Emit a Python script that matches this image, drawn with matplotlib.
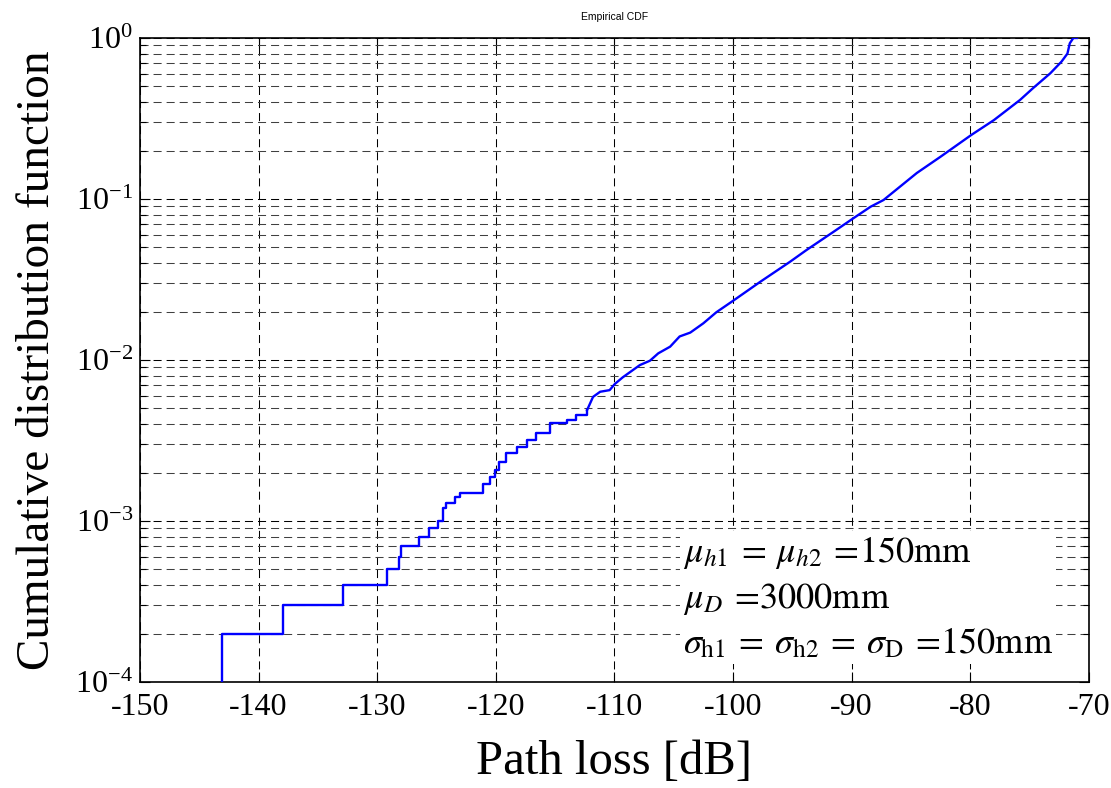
import numpy as np
import matplotlib
matplotlib.use("Agg")
import matplotlib.pyplot as plt
from matplotlib.ticker import FixedLocator, LogLocator, NullFormatter

# ---- data ----
# low-probability staircase part of the empirical CDF
step_x = [-143.1, -143.1, -137.9, -132.9, -129.2, -128.2, -127.95, -126.5, -125.6,
          -124.9, -124.45, -124.2, -123.4, -123.05, -121.1, -120.5, -120.1, -119.7,
          -119.1, -118.25, -117.4, -116.6, -115.4, -114.0, -113.2, -112.3]
step_y = [1.0e-4, 2.0e-4, 3.0e-4, 4.0e-4, 5.0e-4, 6.0e-4, 7.0e-4, 8.0e-4, 9.0e-4,
          1.0e-3, 1.2e-3, 1.3e-3, 1.4e-3, 1.5e-3, 1.7e-3, 1.88e-3, 2.07e-3, 2.33e-3,
          2.63e-3, 2.89e-3, 3.18e-3, 3.5e-3, 4.05e-3, 4.24e-3, 4.55e-3, 4.89e-3]
# dense (quasi-continuous) part
cont_x = [-112.3, -111.8, -111.2, -110.4, -109.96, -109.3, -108.4, -107.85, -107.0,
          -106.3, -105.3, -104.5, -103.6, -102.5, -101.4, -100.0, -97.7, -95.2,
          -93.8, -91.5, -89.85, -88.4, -87.3, -84.5, -82.5, -79.9, -78.0, -75.8,
          -74.7, -73.25, -72.3, -71.8, -71.6, -71.3, -71.0]
cont_y = [4.89e-3, 5.9e-3, 6.35e-3, 6.5e-3, 7.1e-3, 7.8e-3, 8.7e-3, 9.3e-3, 9.9e-3,
          1.1e-2, 1.21e-2, 1.40e-2, 1.48e-2, 1.69e-2, 1.98e-2, 2.33e-2, 3.06e-2, 4.07e-2,
          4.82e-2, 6.27e-2, 7.59e-2, 8.95e-2, 9.86e-2, 0.145, 0.183, 0.25, 0.309, 0.412,
          0.488, 0.603, 0.713, 0.80, 0.927, 1.0, 1.0]

x_ticks = [-150, -140, -130, -120, -110, -100, -90, -80, -70]
x_ticklabels = ["-150", "-140", "-130", "-120", "-110", "-100", "-90", "-80", "-70"]
y_ticks = [1e-4, 1e-3, 1e-2, 1e-1, 1e0]
y_ticklabels = [r"10$^{\mathregular{-4}}$", r"10$^{\mathregular{-3}}$",
                r"10$^{\mathregular{-2}}$", r"10$^{\mathregular{-1}}$",
                r"10$^{\mathregular{0}}$"]

annotation = (r"$\mu_{h1}\:=\:\mu_{h2}\:=\!150\mathrm{mm}$" "\n"
              r"$\mu_{D}\:=\!3000\mathrm{mm}$" "\n"
              r"$\sigma_{\mathrm{h1}}\:=\:\sigma_{\mathrm{h2}}\:=\:\sigma_{\mathrm{D}}\:=\!150\mathrm{mm}$")

# ---- style ----
plt.rcParams['font.family'] = ['Liberation Serif', 'DejaVu Serif']
plt.rcParams['mathtext.fontset'] = 'stix'
plt.rcParams['lines.scale_dashes'] = False

fig = plt.figure(figsize=(11.11, 7.88), dpi=100)
ax = fig.add_axes([0.126, 0.1345, 0.854, 0.8173])

ax.plot(step_x, step_y, color=(0, 0, 1), lw=1.7, drawstyle='steps-post', zorder=4)
ax.plot(cont_x, cont_y, color=(0, 0, 1), lw=1.7, zorder=4)

ax.set_yscale('log')
ax.set_xlim(-150, -70)
ax.set_ylim(1e-4, 1)

ax.xaxis.set_major_locator(FixedLocator(x_ticks))
ax.set_xticklabels(x_ticklabels)
ax.yaxis.set_major_locator(FixedLocator(y_ticks))
ax.set_yticklabels(y_ticklabels)
ax.yaxis.set_minor_locator(LogLocator(base=10, subs=np.arange(2, 10)))
ax.yaxis.set_minor_formatter(NullFormatter())

ax.tick_params(which='both', direction='in', top=True, right=True, labelsize=23)
ax.tick_params(axis='x', pad=8)
ax.tick_params(axis='y', pad=5)
ax.tick_params(which='major', length=7, width=0.8)
ax.tick_params(which='minor', length=4, width=0.8)

dash = (5.8, 3.6)
ax.grid(True, which='major', axis='both', color='black', lw=0.75, linestyle=(0, dash))
ax.grid(True, which='minor', axis='y', color='#404040', lw=0.75, linestyle=(0, dash))

for s in ax.spines.values():
    s.set_linewidth(1.2)

ax.set_xlabel('Path loss [dB]', fontsize=35, labelpad=13)
ax.set_ylabel('Cumulative distribution function', fontsize=34, labelpad=12)
ax.set_title('Empirical CDF', fontsize=7.5, family='Liberation Sans', pad=13)

ax.text(0.572, 0.0325, annotation, transform=ax.transAxes, fontsize=26,
        ha='left', va='bottom', linespacing=1.35, zorder=3,
        bbox=dict(facecolor='white', edgecolor='none', pad=2))

fig.savefig('out.png', dpi=100)
